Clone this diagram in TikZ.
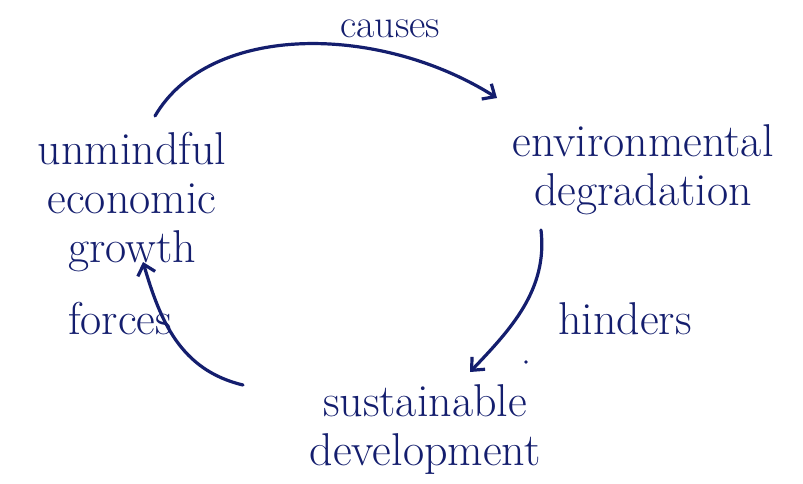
\documentclass[tikz,border=0pt]{standalone}
\usetikzlibrary{arrows.meta}
\definecolor{ink}{RGB}{20,30,110}
\begin{document}
\begin{tikzpicture}[x=1pt,y=-1pt,
  lbl/.style={text=ink,font=\fontsize{46}{49}\selectfont,align=center,inner sep=0pt},
  word/.style={text=ink,font=\fontsize{46}{49}\selectfont,inner sep=0pt,text height=20pt,text depth=0pt},
  arr/.style={draw=ink,line width=3.2pt,line cap=round,-{Straight Barb[length=10pt,width=18pt,line width=3.2pt]}}]
\fill[white] (0,0) rectangle (803,484);
\node[word,font=\fontsize{40}{44}\selectfont] (cause) at (390,28) {causes};
\node[lbl] (growth) at (132,202) {unmindful\\economic\\growth};
\node[lbl] (env) at (643,170) {environmental\\degradation};
\node[word] (hind) at (625,324) {hinders};
\node[lbl] (sust) at (425,430) {sustainable\\development};
\node[word] (forc) at (120,324) {forces};
\coordinate (a1) at (155,116);
\coordinate (a2) at (497,98);
\coordinate (b1) at (541,230);
\coordinate (b2) at (470,372);
\coordinate (c1) at (243,385);
\coordinate (c2) at (143,262);
\draw[arr] (a1) .. controls (210,22) and (380,24) .. (a2);
\draw[arr] (b1) .. controls (548,290) and (510,330) .. (b2);
\draw[arr] (c1) .. controls (180,370) and (160,320) .. (c2);
\fill[ink] (526,362) circle (1.8pt);
\end{tikzpicture}
\end{document}
